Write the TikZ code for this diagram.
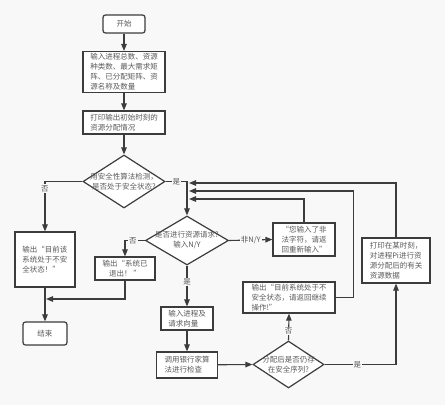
\documentclass[tikz,border=0pt]{standalone}
\usepackage{fontspec}
\setmainfont{Noto Sans CJK SC}
\usetikzlibrary{arrows.meta,shapes.geometric}
\definecolor{fcline}{RGB}{60,60,60}
\definecolor{fctext}{RGB}{90,90,90}
\definecolor{fcbg}{RGB}{248,248,248}
\tikzset{
  box/.style={draw=fcline, line width=1.2pt, fill=white, rectangle, inner sep=2pt,
    font=\fontsize{7.5}{10}\selectfont, text=fctext, align=left},
  term/.style={box, rounded corners=2.5pt, align=center},
  dec/.style={draw=fcline, line width=1.2pt, fill=white, diamond, inner sep=0pt},
  dectext/.style={font=\fontsize{7.5}{10}\selectfont, text=fctext, align=center},
  lbl/.style={fill=fcbg, inner sep=1pt, font=\fontsize{7.5}{9}\selectfont, text=fctext},
  arr/.style={draw=fcline, line width=1.1pt, -{Triangle[length=7pt,width=5.5pt]}},
}
\begin{document}
\begin{tikzpicture}[x=1pt,y=-1pt]
\fill[fcbg] (0,0) rectangle (445,405);
\useasboundingbox (0,0) rectangle (445,405);
% --- Main column ---
\node[term, minimum width=42, minimum height=18] (start) at (124,24) {开始};
\node[box, minimum width=82, minimum height=40] (input) at (124,72)
  {输入进程总数、资源\\种类数、最大需求矩\\阵、已分配矩阵、资\\源名称及数量};
\node[box, minimum width=82, minimum height=23] (print) at (124,122.5)
  {打印输出初始时刻的\\资源分配情况};
\node[dec, minimum width=82, minimum height=53] (d1) at (124,181.5) {};
\node[dectext] (d1t) at (d1) {用安全性算法检测，\\是否处于安全状态?};
% --- Left branch ---
\node[box, minimum width=60, minimum height=55] (unsafe) at (45,259.5)
  {输出“目前该\\系统处于不安\\全状态！”};
\node[term, minimum width=44, minimum height=23] (end) at (45,333.5) {结束};
% --- Request decision ---
\node[dec, minimum width=83, minimum height=49] (d2) at (187,240.5) {};
\node[dectext] (d2t) at (d2) {是否进行资源请求?\\输入N/Y};
\node[box, align=center, minimum width=60, minimum height=23] (exitbox) at (125,268.5)
  {输出“系统已\\退出！ ”};
\node[box, minimum width=62, minimum height=33] (illegal) at (304,239.5)
  {“您输入了非\\法字符，请返\\回重新输入”};
\node[box, minimum width=52, minimum height=23] (reqbox) at (187,318.5)
  {输入进程及\\请求向量};
\node[box, minimum width=61, minimum height=26] (bankbox) at (187,365)
  {调用银行家算\\法进行检查};
% --- Safety check after allocation ---
\node[dec, minimum width=71, minimum height=47] (d3) at (288.5,364.5) {};
\node[dectext] (d3t) at (d3) {分配后是否仍存\\在安全序列?};
\node[box, minimum width=92, minimum height=31] (warnbox) at (289,297.5)
  {输出“目前系统处于不\\安全状态，请返回继续\\操作!”};
\node[box, minimum width=68, minimum height=45] (printpi) at (396,260.5)
  {打印在某时刻，\\对进程Pi进行资\\源分配后的有关\\资源数据};
% Return points on the bus
\coordinate (r1) at (189,183);
\coordinate (r2) at (189,191);
\coordinate (r3) at (189,199);
\coordinate (m1) at (46,299);
% --- Connectors ---
\draw[arr] (start) -- (input);
\draw[arr] (input) -- (print);
\draw[arr] (print) -- (d1);
\draw[arr] (d1.west) -| node[lbl, pos=0.57] (no1) {否} (unsafe.north);
\draw[arr] (unsafe) -- (end);
\draw[arr] (d1.east) -| node[lbl, pos=0.25] (yes1) {是} (d2.north);
\draw[arr] (d2.west) -| node[lbl, pos=0.3] (no2) {否} (exitbox.north);
\draw[arr] (exitbox.south) |- (m1);
\draw[arr] (d2.east) -- node[lbl] (bad) {非N/Y} (illegal.west);
\draw[arr] (d2.south) -- node[lbl, pos=0.4] (yes2) {是} (reqbox.north);
\draw[arr] (reqbox) -- (bankbox);
\draw[arr] (bankbox) -- (d3.west);
\draw[arr] (d3.north) -- node[lbl, pos=0.35] (no3) {否} (warnbox.south);
\draw[arr] (d3.east) -| node[lbl, pos=0.23] (yes3) {是} (printpi.south);
% Loops back to the request decision
\draw[arr] (printpi.north) |- (r1);
\draw[arr] (warnbox.east) -- ++(18,0) |- (r2);
\draw[arr] (illegal.north) |- (r3);
\end{tikzpicture}
\end{document}
